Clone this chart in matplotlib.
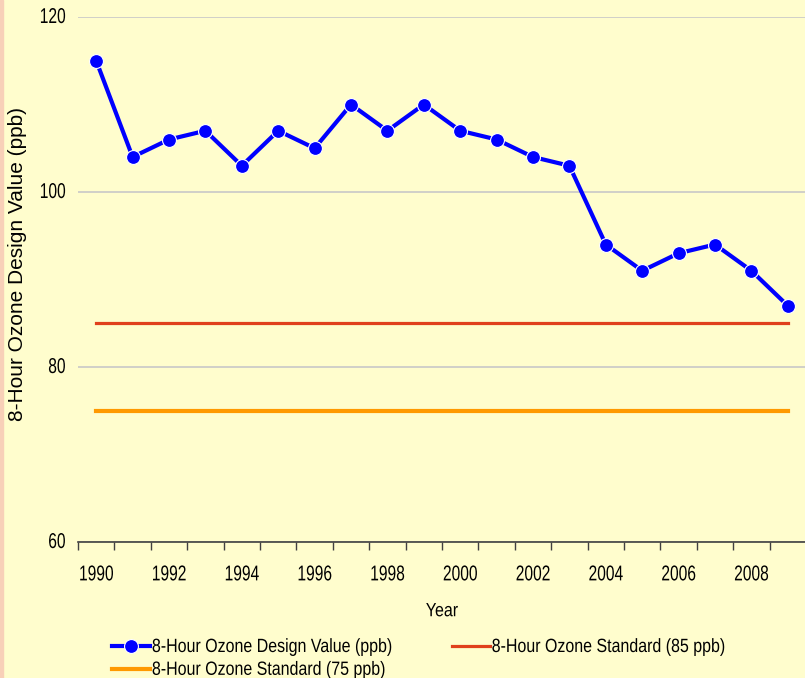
import matplotlib.pyplot as plt
from matplotlib.patches import Rectangle
from matplotlib.patheffects import AbstractPathEffect
from matplotlib.transforms import Affine2D

anos = list(range(1990, 2010))
ozonio = [115, 104, 106, 107, 103, 107, 105, 110, 107, 110,
          107, 106, 104, 103, 94, 91, 93, 94, 91, 87]
padrao_85 = [85] * len(anos)
padrao_75 = [75] * len(anos)
rotulos_x = [str(a) if a % 2 == 0 else "" for a in anos]

fundo = '#FFFDCD'
fonte = 'Liberation Sans'


class Esticar(AbstractPathEffect):
    # estica os glifos (texto do original parece "espremido" na horizontal)
    def __init__(self, sx=1.0, sy=1.0):
        super().__init__()
        self.sx, self.sy = sx, sy

    def draw_path(self, renderer, gc, tpath, affine, rgbFace=None):
        renderer.draw_path(gc, tpath, Affine2D().scale(self.sx, self.sy) + affine,
                           rgbFace)


alto = [Esticar(1.0, 1.38)]
alto_leg = [Esticar(1.0, 1.2)]

fig = plt.figure(figsize=(8.05, 6.78), dpi=100, facecolor=fundo)
ax = fig.add_axes([78 / 805, 136 / 678, 728 / 805, 525 / 678])
ax.set_facecolor(fundo)

# faixa rosada na borda esquerda
fig.patches.append(Rectangle((0, 0), 3 / 805, 1, transform=fig.transFigure,
                             color='#F8D0B8', zorder=0))

x = list(range(len(anos)))
l1, = ax.plot(x, ozonio, color='#0000FF', lw=3, marker='o', ms=10,
              mfc='#0000FF', mec='white', mew=0.8,
              label='8-Hour Ozone Design Value (ppb)', zorder=4)
l2, = ax.plot(x, padrao_85, color='#E0401C', lw=2.3,
              label='8-Hour Ozone Standard (85 ppb)', zorder=3)
l3, = ax.plot(x, padrao_75, color='#FF9900', lw=3,
              label='8-Hour Ozone Standard (75 ppb)', zorder=3)

ax.set_xlim(-0.5, len(anos) - 0.5)
ax.set_ylim(60, 120)
ax.set_yticks([60, 80, 100, 120])
ax.grid(axis='y', color='#C8C8C8', lw=1.2)
ax.set_axisbelow(True)

ax.set_xticks(x)
ax.set_xticklabels(rotulos_x)
ax.set_xticks([i - 0.5 for i in range(len(anos) + 1)], minor=True)
ax.tick_params(axis='x', which='major', length=0, pad=19)
ax.tick_params(axis='x', which='minor', length=6, color='#404040', width=1)
ax.tick_params(axis='y', length=0, pad=9)
for t in ax.get_xticklabels() + ax.get_yticklabels():
    t.set_fontfamily(fonte)
    t.set_fontsize(11.2)
    t.set_path_effects(alto)

for lado in ['left', 'right', 'top']:
    ax.spines[lado].set_visible(False)
ax.spines['bottom'].set_color('#404040')
ax.spines['bottom'].set_linewidth(1.2)

ax.set_xlabel('Year', fontfamily=fonte, fontsize=11.5, labelpad=15,
              path_effects=alto_leg)
ax.set_ylabel('8-Hour Ozone Design Value (ppb)', fontfamily=fonte,
              fontsize=15)
ax.yaxis.set_label_coords((27 - 78) / 728, (542 - 264) / 525)

leg = ax.legend([l1, l3, l2], [l1.get_label(), l3.get_label(), l2.get_label()],
                loc='upper left', bbox_to_anchor=(34 / 728, -98 / 525), ncol=2,
                frameon=False, prop={'family': fonte, 'size': 11.5},
                handlelength=2.38, handletextpad=0.12, columnspacing=3.7,
                labelspacing=0.49, borderaxespad=0, borderpad=0)
for t in leg.get_texts():
    t.set_path_effects(alto_leg)

fig.savefig('out.png', dpi=100, facecolor=fundo)
